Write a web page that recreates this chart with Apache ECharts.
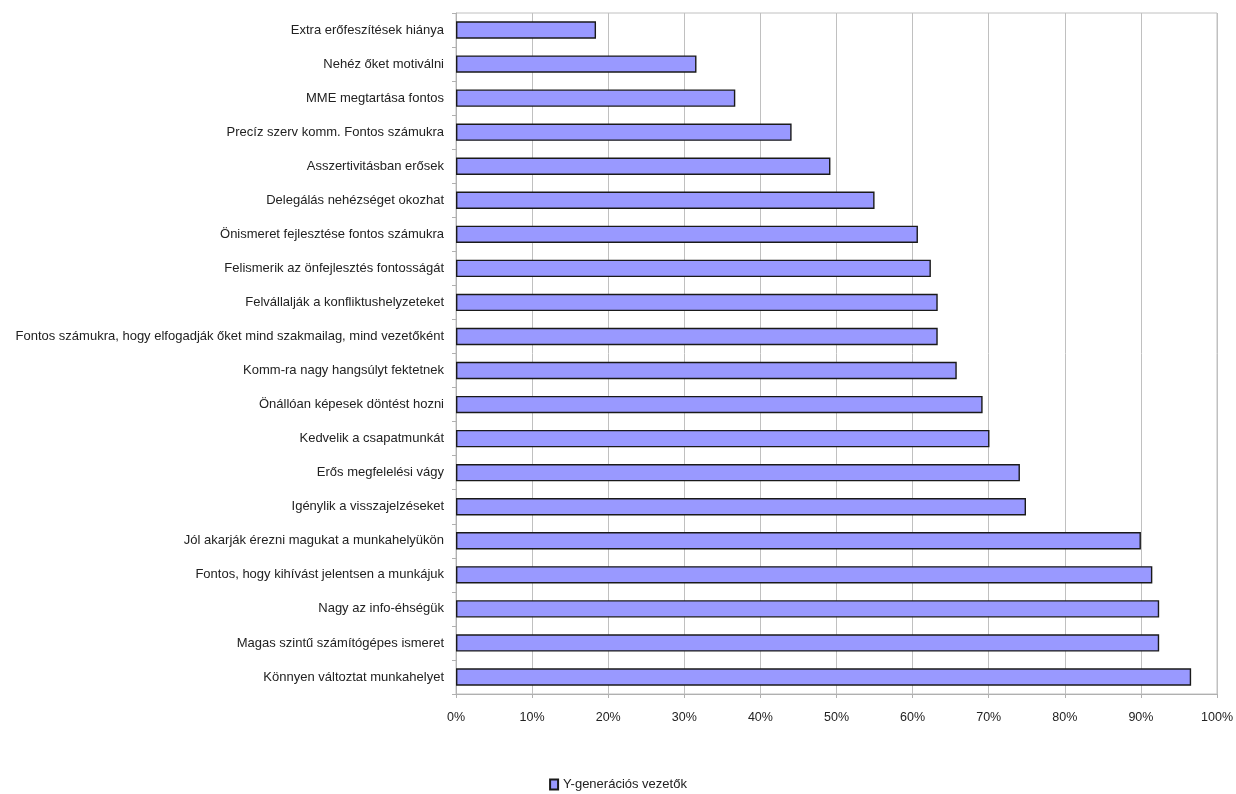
<!DOCTYPE html>
<html>
<head>
<meta charset="utf-8">
<script src="https://cdn.jsdelivr.net/npm/echarts@6/dist/echarts.min.js"></script>
<style>html,body{margin:0;padding:0;background:#fff}#c{width:1236px;height:794px}</style>
</head>
<body>
<div id="c"></div>
<script>
const categories = [
  "Extra erőfeszítések hiánya",
  "Nehéz őket motiválni",
  "MME megtartása fontos",
  "Precíz szerv komm. Fontos számukra",
  "Asszertivitásban erősek",
  "Delegálás nehézséget okozhat",
  "Önismeret fejlesztése fontos számukra",
  "Felismerik az önfejlesztés fontosságát",
  "Felvállalják a konfliktushelyzeteket",
  "Fontos számukra, hogy elfogadják őket mind szakmailag, mind vezetőként",
  "Komm-ra nagy hangsúlyt fektetnek",
  "Önállóan képesek döntést hozni",
  "Kedvelik a csapatmunkát",
  "Erős megfelelési vágy",
  "Igénylik a visszajelzéseket",
  "Jól akarják érezni magukat a munkahelyükön",
  "Fontos, hogy kihívást jelentsen a munkájuk",
  "Nagy az info-éhségük",
  "Magas szintű számítógépes ismeret",
  "Könnyen változtat munkahelyet"
];
const seriesName = "Y-generációs vezetők";
const values = [18.4, 31.6, 36.7, 44.1, 49.2, 55.0, 60.7, 62.4, 63.3, 63.3, 65.8, 69.2, 70.1, 74.1, 74.9, 90.0, 91.5, 92.4, 92.4, 96.6];
const xTicks = { min: 0, max: 100, interval: 10 };

const chart = echarts.init(document.getElementById('c'));
chart.setOption({
  animation: false,
  textStyle: { fontFamily: 'Liberation Sans, Arial, sans-serif' },
  grid: { left: 456, right: 17, top: 13, bottom: 100, show: true, borderColor: '#c0c0c0', borderWidth: 1 },
  legend: {
    bottom: -2, left: 'center',
    data: [seriesName],
    icon: 'rect', itemWidth: 8, itemHeight: 10, itemGap: 3,
    textStyle: { fontSize: 13, color: '#222' }
  },
  xAxis: {
    type: 'value', min: xTicks.min, max: xTicks.max, interval: xTicks.interval,
    axisLine: { show: true, lineStyle: { color: '#b0b0b0' } },
    axisTick: { show: true, length: 4, lineStyle: { color: '#b0b0b0' } },
    splitLine: { show: true, lineStyle: { color: '#c0c0c0', width: 1 } },
    axisLabel: { formatter: '{value}%', fontSize: 12.5, color: '#222', margin: 17 }
  },
  yAxis: {
    type: 'category', data: categories, inverse: true,
    axisLine: { show: true, lineStyle: { color: '#b0b0b0' } },
    axisTick: { show: true, length: 4, lineStyle: { color: '#b0b0b0' } },
    axisLabel: { fontSize: 13, color: '#222', margin: 12 }
  },
  series: [{
    name: seriesName, type: 'bar', data: values, barWidth: '51%',
    itemStyle: { color: '#9999ff', borderColor: '#1a1a1a', borderWidth: 1.4 }
  }]
});
</script>
</body>
</html>
